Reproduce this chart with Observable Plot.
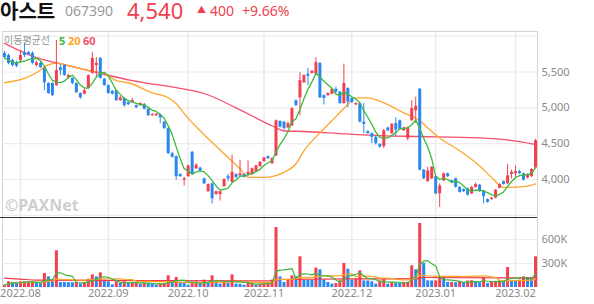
<!DOCTYPE html>
<html><head><meta charset="utf-8">
<script src="https://cdn.jsdelivr.net/npm/d3@7"></script>
<script src="https://cdn.jsdelivr.net/npm/@observablehq/plot@0.6"></script>
<style>
body{margin:0;background:#fff;font-family:"Noto Sans CJK KR","Noto Sans",sans-serif;}
#wrap{position:relative;width:594px;height:304px;overflow:hidden;}
.a{position:absolute;white-space:nowrap;line-height:1;}
#price svg,#vol svg{display:block}
</style></head><body>
<div id="wrap">
  <div id="price" class="a" style="left:0;top:0"></div>
  <div id="vol" class="a" style="left:0;top:217px"></div>
  <div class="a" style="left:0;top:217px;width:537px;height:0;border-top:1px solid #333"></div>
  <div class="a" style="left:0;top:1px;font-size:20px;font-weight:700;color:#111">아스트</div>
  <div class="a" style="left:65px;top:4px;font-size:14px;color:#999;font-family:'Noto Sans',sans-serif">067390</div>
  <div class="a" style="left:127px;top:-1px;font-size:22px;color:#f2404e;font-family:'Noto Sans',sans-serif">4,540</div>
  <div class="a" style="left:197px;top:5px;font-size:9px;color:#f2404e">▲</div>
  <div class="a" style="left:210px;top:4px;font-size:14px;color:#f2404e;font-family:'Noto Sans',sans-serif">400</div>
  <div class="a" style="left:242px;top:4px;font-size:14px;color:#f2404e;font-family:'Noto Sans',sans-serif">+9.66%</div>
  <div class="a" style="left:4px;top:35px;font-size:10px;color:#999">이동평균선</div>
  <div class="a" style="left:59px;top:35px;font-size:11px;font-weight:700;color:#3cb93c;font-family:'Noto Sans',sans-serif">5</div>
  <div class="a" style="left:68px;top:35px;font-size:11px;font-weight:700;color:#ffa52b;font-family:'Noto Sans',sans-serif">20</div>
  <div class="a" style="left:83px;top:35px;font-size:11px;font-weight:700;color:#f5506a;font-family:'Noto Sans',sans-serif">60</div>
  <div class="a" style="left:5px;top:197px;font-size:16px;font-weight:700;color:#cfcfcf;font-family:'Noto Sans',sans-serif">©PAXNet</div>
</div>
<script>
const openP = [5760,5730,5660,5630,5660,5770,5770,5760,5590,5620,5550,5340,5340,5310,5560,5590,5420,5410,5340,5200,5190,5270,5480,5590,5690,5400,5310,5230,5240,5100,5130,5075,5070,5030,5030,5050,4980,4890,4890,4900,4800,4710,4360,4320,4070,3990,4040,4380,4150,4160,4010,3830,3940,3790,3790,3900,4040,3960,4070,4050,4070,4070,4070,4110,4180,4250,4320,4220,4330,4810,4800,4720,4750,5100,5140,5350,5470,5480,5470,5620,5170,5170,5190,5260,5220,5060,5270,5130,5040,5060,4800,4670,4640,4590,4490,4460,4720,4640,4780,4820,4680,4570,4820,4960,5260,4130,3970,4010,4040,3800,3980,4080,3985,4010,3890,3860,3870,3800,3890,3920,3840,3720,3720,3740,3880,3970,3940,4070,4080,4110,4080,4020,4040,4160];
const highP = [5790,5750,5680,5650,5800,5900,5790,5780,5650,5640,5570,5350,5350,5940,5600,5600,5470,5420,5350,5210,5260,5460,5770,5700,5700,5410,5320,5240,5250,5160,5140,5080,5130,5040,5070,5060,4990,4920,4920,4910,4810,4720,4380,4330,4080,4030,4200,4390,4220,4170,4020,3940,3950,3840,3840,4010,4070,4340,4080,4270,4080,4260,4160,4200,4250,4310,4330,4300,4830,4820,4810,4800,5000,5110,5490,5460,5550,5520,5700,5630,5180,5210,5270,5290,5230,5610,5280,5140,5070,5070,5060,4680,4650,4600,4500,4700,4730,4780,4860,4830,4730,4730,5100,5150,5270,4140,4170,4180,4050,3940,4090,4090,3990,4020,3900,3870,3880,3900,3950,3930,3850,3730,3750,3860,3940,3980,4210,4130,4190,4130,4090,4080,4150,4560];
const lowP = [5680,5600,5570,5560,5620,5700,5730,5600,5570,5550,5240,5190,5160,5300,5450,5440,5400,5320,5200,5120,5180,5260,5470,5420,5400,5300,5190,5180,5090,5090,5010,5030,5060,4990,5020,4970,4880,4880,4880,4780,4700,4350,4300,3990,4030,3910,4030,4070,4140,4110,3930,3820,3660,3780,3700,3890,3970,3950,4010,4040,4020,4040,4060,4100,4170,4240,4280,4210,4320,4720,4690,4710,4740,5020,4890,5340,5310,5470,5460,5130,5040,5160,5180,5200,5050,5050,5000,5060,5030,4790,4640,4630,4500,4480,4440,4430,4670,4630,4590,4690,4670,4540,4810,4780,4120,4000,3960,4000,3790,3610,3970,4030,3950,3880,3810,3820,3770,3790,3880,3820,3660,3670,3710,3730,3870,3920,3930,4010,4020,4070,3980,4010,4030,4150];
const closeP = [5700,5620,5590,5580,5730,5730,5745,5620,5630,5560,5350,5200,5170,5520,5520,5450,5450,5340,5210,5140,5240,5450,5690,5620,5410,5310,5200,5190,5100,5140,5030,5045,5100,5000,5060,4980,4890,4905,4910,4860,4710,4360,4310,4040,4040,4010,4190,4080,4200,4120,3940,3930,3730,3830,3830,4000,4010,4100,4030,4080,4030,4100,4150,4190,4240,4300,4290,4290,4820,4730,4710,4780,4990,5030,5380,5450,5440,5510,5630,5140,5130,5200,5260,5220,5060,5340,5080,5075,5060,4800,4770,4640,4590,4500,4450,4680,4680,4770,4690,4700,4720,4720,4990,5020,4130,4010,4120,4170,3800,3910,4080,4040,3960,3890,3820,3830,3780,3890,3930,3830,3760,3680,3740,3850,3930,3930,4050,4100,4110,4080,3990,4070,4140,4540];
const volumeK = [29,71,63,62,71,72,72,73,50,49,175,133,92,459,63,62,61,60,65,42,63,104,158,133,183,92,71,33,71,50,71,58,60,61,42,58,50,42,29,42,50,146,63,125,63,62,29,58,71,42,92,63,146,63,42,63,50,158,42,40,29,50,58,29,42,50,58,92,750,133,63,92,146,133,384,92,90,88,242,221,92,63,42,50,83,300,229,92,104,208,83,82,71,42,83,104,42,63,50,49,63,64,271,221,800,304,83,82,83,125,124,63,63,60,75,55,80,85,70,60,125,50,63,64,83,82,250,83,82,92,133,125,124,384];
const ma20Idx = [1,6,9,12,14,17,22,26,29,32,38,42,44,46,50,56,60,62,66,71,74,76,80,83,86,89,92,96,101,105,107,110,115,120,123,126,131,134];
const ma20Val = [5350,5410,5490,5600,5620,5590,5520,5480,5380,5350,5210,5140,5060,4920,4680,4360,4150,4030,4030,4100,4220,4400,4650,4820,4990,5140,5140,5070,4930,4820,4720,4580,4400,4190,4030,3890,3900,3940];
const ma60Idx = [1,9,17,25,33,45,51,59,68,71,76,85,96,105,120,130,134];
const ma60Val = [5900,5700,5590,5480,5380,5270,5200,5000,4750,4680,4670,4640,4610,4600,4580,4530,4490];
const volMa60Idx = [1,5,9,40,68,70,90,104,106,134];
const volMa60Val = [117,105,92,85,83,100,108,110,125,118];
const monthIdx = [5,27,47,66,88,109,129];
const monthLabels = ["2022.08","2022.09","2022.10","2022.11","2022.12","2023.01","2023.02"];
const priceTicks = [4000,4500,5000,5500];
const priceGrid = [3500,4000,4500,5000,5500,6000];
const volTicks = [300,600];

const RED = "#f43f4f", BLUE = "#2b87f0", GREEN = "#3cb93c", ORANGE = "#ffa52b", PINK = "#f5506a", GRID = "#ececec";
const rows = closeP.map((c, j) => ({i: j + 1, o: openP[j], h: highP[j], l: lowP[j], c, v: volumeK[j],
  up: c >= openP[j], vup: j === 0 || volumeK[j] >= volumeK[j - 1]}));
const ma20 = ma20Idx.map((i, j) => ({i, v: ma20Val[j]}));
const ma60 = ma60Idx.map((i, j) => ({i, v: ma60Val[j]}));
const vma60 = volMa60Idx.map((i, j) => ({i, v: volMa60Val[j]}));
const xDom = [0.5, closeP.length + 0.5];
const font = {fontFamily: "'Noto Sans', sans-serif", fontSize: "11px", color: "#8a8a8a", background: "transparent", overflow: "visible"};

const price = Plot.plot({
  width: 594, height: 218, marginTop: 31, marginBottom: 1, marginLeft: 2, marginRight: 57,
  style: font,
  x: {domain: xDom, axis: null},
  y: {domain: [3470, 6065], axis: "right", ticks: priceTicks, tickSize: 0, tickPadding: 4, tickFormat: d3.format(","), label: null},
  marks: [
    Plot.ruleY(priceGrid, {stroke: GRID, strokeWidth: 1.2}),
    Plot.ruleX(monthIdx, {stroke: GRID, strokeWidth: 1.5}),
    Plot.frame({stroke: "#d4d4d4"}),
    Plot.line(ma60, {x: "i", y: "v", stroke: PINK, strokeWidth: 1.3, curve: "monotone-x"}),
    Plot.line(ma20, {x: "i", y: "v", stroke: ORANGE, strokeWidth: 1.3, curve: "monotone-x"}),
    Plot.ruleX(rows, {x: "i", y1: "l", y2: "h", stroke: d => d.up ? RED : BLUE, strokeWidth: 1}),
    Plot.ruleX(rows, {x: "i", y1: "o", y2: "c", stroke: d => d.up ? RED : BLUE, strokeWidth: 3}),
    Plot.lineY(rows, Plot.windowY({k: 5, anchor: "end", strict: false}, {x: "i", y: "c", stroke: GREEN, strokeWidth: 1.3}))
  ]
});
document.getElementById("price").appendChild(price);

const vol = Plot.plot({
  width: 594, height: 87, marginTop: 0, marginBottom: 17, marginLeft: 2, marginRight: 57,
  style: font,
  x: {domain: xDom, axis: "bottom", ticks: monthIdx, tickSize: 0, tickPadding: 2, tickFormat: d => monthLabels[monthIdx.indexOf(d)], label: null},
  y: {domain: [0, 875], axis: "right", ticks: volTicks, tickSize: 0, tickPadding: 4, tickFormat: d => d + "K", label: null},
  marks: [
    Plot.ruleY(volTicks, {stroke: GRID, strokeWidth: 1.2}),
    Plot.ruleX(monthIdx, {stroke: GRID, strokeWidth: 1.5}),
    Plot.ruleX(rows, {x: "i", y1: 0, y2: "v", stroke: d => d.vup ? RED : BLUE, strokeWidth: 3}),
    Plot.line(vma60, {x: "i", y: "v", stroke: "#f23a4a", strokeWidth: 1.2, curve: "monotone-x"}),
    Plot.lineY(rows, Plot.windowY({k: 20, anchor: "end", strict: false}, {x: "i", y: "v", stroke: ORANGE, strokeWidth: 1.2})),
    Plot.lineY(rows, Plot.windowY({k: 5, anchor: "end", strict: false}, {x: "i", y: "v", stroke: GREEN, strokeWidth: 1.2})),
    Plot.ruleX(xDom, {stroke: "#d4d4d4"})
  ]
});
document.getElementById("vol").appendChild(vol);
</script>
</body></html>
